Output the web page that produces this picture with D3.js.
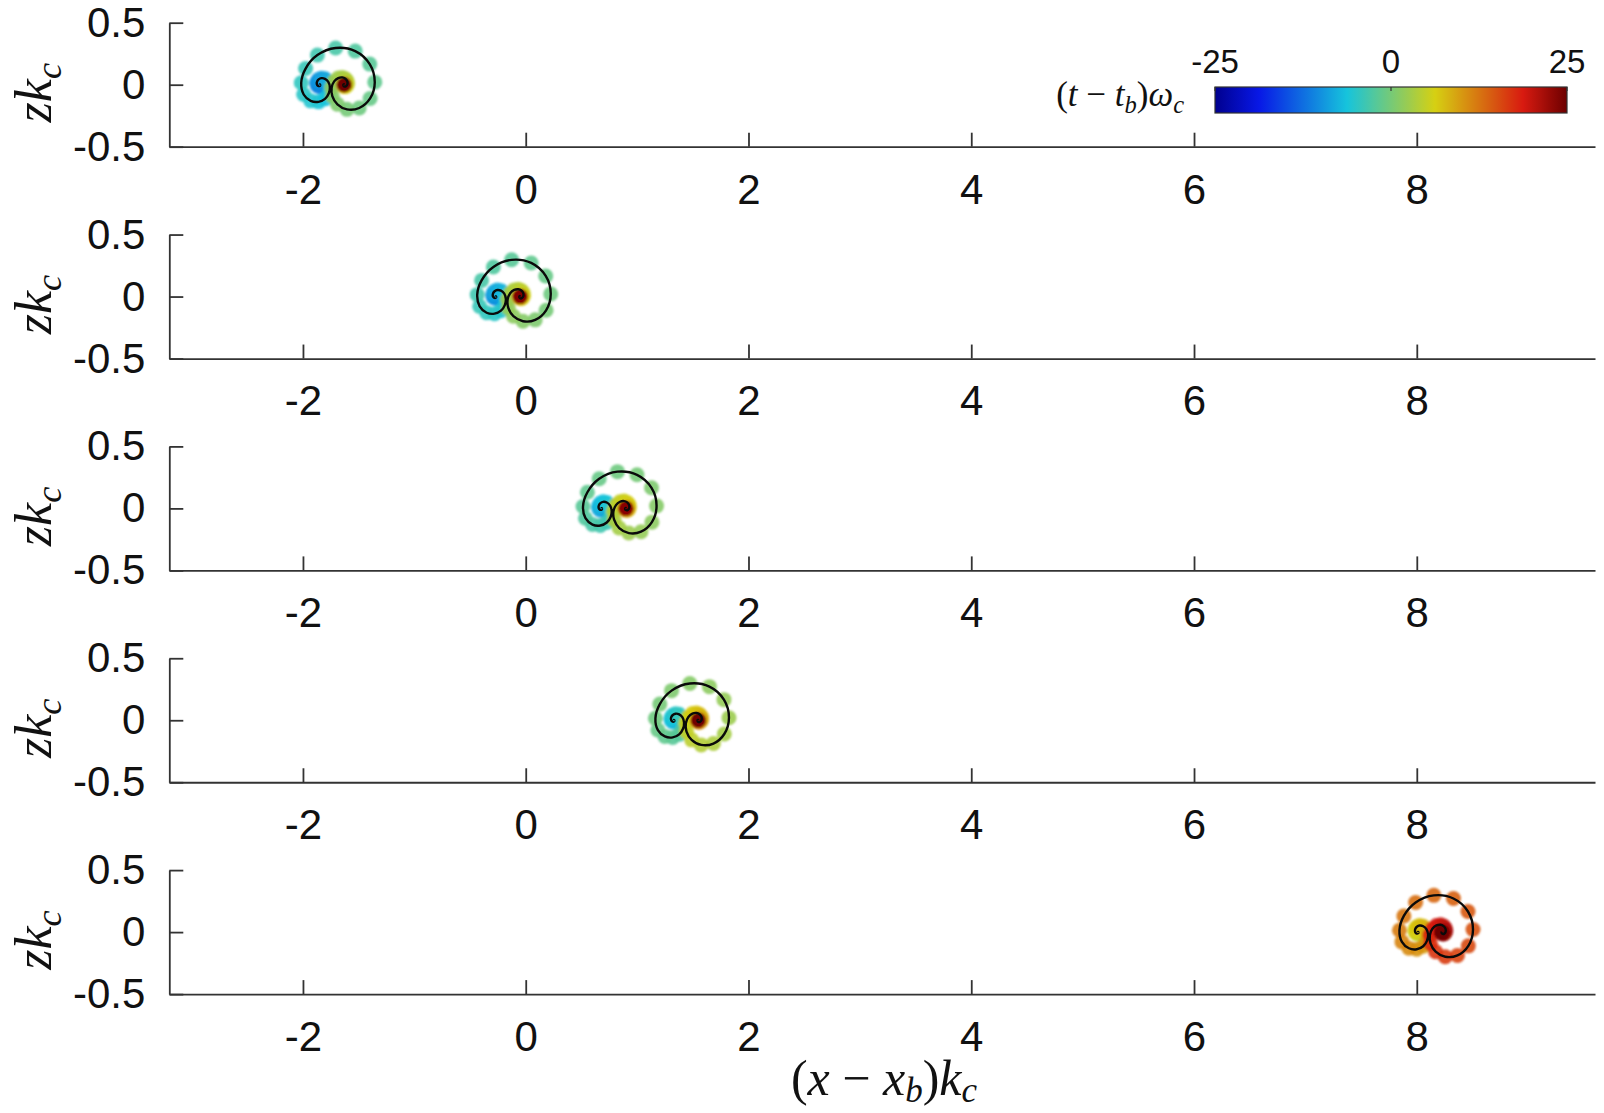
<!DOCTYPE html>
<html>
<head>
<meta charset="utf-8">
<script src="https://cdn.jsdelivr.net/npm/d3@7"></script>
<style>
  body { margin: 0; background: #fff; }
  svg { display: block; }
</style>
</head>
<body>
<svg id="chart" width="1604" height="1113"></svg>
<script>
// Particle path samples: time relative to the passage of the wave group,
// horizontal and vertical displacement from the initial rest position.
const orbitTau = [-24, -22, -20, -18, -16, -14,
  -12, -11.5, -11, -10.5, -10, -9.5, -9, -8.5, -8, -7.5, -7, -6.5, -6, -5.5, -5, -4.5, -4, -3.5,
  -3, -2.5, -2, -1.5, -1, -0.5, 0, 0.5, 1, 1.5, 2, 2.5, 3, 3.5, 4, 4.5, 5, 5.5,
  6, 6.5, 7, 7.5, 8, 8.5, 9, 9.5, 10, 10.5, 11, 11.5, 12,
  14, 16, 18, 20, 22, 24, 26, 28, 30];
const orbitDx = [0, 0, 0, 0, 0, 0,
  0.0013, 0.0027, 0.0038, 0.0042, 0.0043, 0.0008, -0.0054, -0.0137, -0.0217, -0.0262, -0.0228, -0.0093, 0.0156, 0.0477, 0.0775, 0.0915, 0.0822, 0.0477,
  -0.0104, -0.0807, -0.1435, -0.1656, -0.1262, -0.0204, 0.1433, 0.3190, 0.4495, 0.4947, 0.4528, 0.3552, 0.2456, 0.1593, 0.1135, 0.1076, 0.1302, 0.1665,
  0.2029, 0.2306, 0.2462, 0.2502, 0.2456, 0.2366, 0.2269, 0.2190, 0.2141, 0.2123, 0.2130, 0.2150, 0.2176,
  0.22, 0.22, 0.22, 0.22, 0.22, 0.22, 0.22, 0.22, 0.22];
const orbitDz = [0, 0, 0, 0, 0, 0,
  0.0021, 0.0015, 0.0000, -0.0023, -0.0068, -0.0099, -0.0118, -0.0102, -0.0033, 0.0098, 0.0262, 0.0428, 0.0528, 0.0475, 0.0228, -0.0194, -0.0688, -0.1139,
  -0.1382, -0.1304, -0.0791, 0.0152, 0.1303, 0.2388, 0.2962, 0.2710, 0.1661, 0.0207, -0.1108, -0.1879, -0.1989, -0.1581, -0.0913, -0.0242, 0.0265, 0.0536,
  0.0589, 0.0483, 0.0301, 0.0112, -0.0038, -0.0125, -0.0153, -0.0135, -0.0091, -0.0042, 0.0000, 0.0027, 0.0038,
  0, 0, 0, 0, 0, 0, 0, 0, 0];

// One panel per particle: initial rest position and time of the group's passage.
const panelRestX = [-1.85, -0.27, 0.68, 1.33, 8.01];
const panelPeakT = [-3, -2, -0.5, 1, 13.5];

const xTicks = [-2, 0, 2, 4, 6, 8];
const zTicks = [-0.5, 0, 0.5];
const timeTicks = [-25, 0, 25];
const timeRange = [-25, 25];

const svg = d3.select('#chart');
const sansFont = '"Liberation Sans", Arial, Helvetica, sans-serif';
const serifFont = '"Liberation Serif", "Times New Roman", serif';
const axisColor = '#333';
const textColor = '#111';

const plotLeft = 169.3, plotRight = 1595;
const panelTop0 = 22.7, panelStep = 211.85, panelH = 124;

const x = d3.scaleLinear().domain([-3.2, 9.6]).range([plotLeft, plotRight]);

// jet-style colour map over the time range
const jetPos = [0, 0.125, 0.375, 0.625, 0.875, 1];
const color = d3.scaleLinear()
  .domain(jetPos.map(p => timeRange[0] + p * (timeRange[1] - timeRange[0])))
  .range(['#00008f', '#0818e6', '#16c4dc', '#d6d012', '#d81a10', '#6c0000'])
  .interpolate(d3.interpolateRgb)
  .clamp(true);

const defs = svg.append('defs');
defs.append('filter').attr('id', 'soft')
  .attr('x', '-20%').attr('y', '-20%').attr('width', '140%').attr('height', '140%')
  .append('feGaussianBlur').attr('stdDeviation', 1.2);

// math-style label built from tspans (italic symbols, subscripts)
function mathText(sel, parts, size, subDrop) {
  let shift = 0;
  parts.forEach(p => {
    const ts = sel.append('tspan').text(p.t)
      .attr('font-style', p.it ? 'italic' : 'normal');
    const target = p.sub ? size * subDrop : 0;
    if (target !== shift) { ts.attr('dy', target - shift); shift = target; }
    if (p.sub) ts.attr('font-size', size * 0.7);
  });
}

const line = d3.line().curve(d3.curveCatmullRom.alpha(0.5));

panelRestX.forEach((restX, i) => {
  const top = panelTop0 + i * panelStep;
  const y = d3.scaleLinear().domain([-0.5, 0.5]).range([top + panelH, top]);
  const g = svg.append('g');

  // axes: left and bottom spines, ticks pointing inwards
  const gx = g.append('g').attr('transform', `translate(0,${top + panelH})`)
    .call(d3.axisBottom(x).tickValues(xTicks).tickSizeInner(-14).tickSizeOuter(0)
      .tickPadding(27).tickFormat(d => String(d)));
  const gy = g.append('g').attr('transform', `translate(${plotLeft},0)`)
    .call(d3.axisLeft(y).tickValues(zTicks).tickSizeInner(-14).tickSizeOuter(0)
      .tickPadding(24).tickFormat(d => String(d)));
  [gx, gy].forEach(a => {
    a.select('.domain').attr('stroke', axisColor).attr('stroke-width', 1.8);
    a.selectAll('.tick line').attr('stroke', axisColor).attr('stroke-width', 1.8);
    a.selectAll('.tick text').attr('fill', textColor)
      .attr('font-family', sansFont).attr('font-size', 42);
  });

  // y label
  const yl = g.append('text')
    .attr('transform', `translate(51,${top + panelH / 2 + 8}) rotate(-90)`)
    .attr('text-anchor', 'middle')
    .attr('font-family', serifFont).attr('font-size', 52).attr('fill', textColor);
  mathText(yl, [{ t: 'z', it: true }, { t: 'k', it: true }, { t: 'c', it: true, sub: true }], 52, 0.2);

  // trajectory samples inside the time window
  const pts = orbitTau.map((tau, k) => ({
    t: panelPeakT[i] + tau,
    xv: restX + orbitDx[k],
    zv: orbitDz[k]
  })).filter(d => d.t >= timeRange[0] && d.t <= timeRange[1]);

  g.append('g').attr('filter', 'url(#soft)')
    .selectAll('circle').data(pts).join('circle')
    .attr('cx', d => x(d.xv)).attr('cy', d => y(d.zv)).attr('r', 7.5)
    .attr('fill', d => color(d.t)).attr('fill-opacity', 0.9);

  g.append('path')
    .attr('d', line(pts.map(d => [x(d.xv), y(d.zv)])))
    .attr('fill', 'none').attr('stroke', '#0a0a0a').attr('stroke-width', 2.4)
    .attr('stroke-linejoin', 'round');
});

// x label under the last panel
const xl = svg.append('text')
  .attr('x', 884).attr('y', 1095).attr('text-anchor', 'middle')
  .attr('font-family', serifFont).attr('font-size', 50).attr('fill', textColor);
mathText(xl, [{ t: '(' }, { t: 'x', it: true }, { t: ' \u2212 ' }, { t: 'x', it: true },
  { t: 'b', it: true, sub: true }, { t: ')' }, { t: 'k', it: true }, { t: 'c', it: true, sub: true }], 50, 0.14);

// colour bar
const cbX0 = 1215, cbX1 = 1567, cbY0 = 87, cbY1 = 113;
const cb = d3.scaleLinear().domain(timeRange).range([cbX0, cbX1]);
const grad = defs.append('linearGradient').attr('id', 'cbgrad')
  .attr('x1', '0%').attr('x2', '100%').attr('y1', '0%').attr('y2', '0%');
d3.range(0, 1.0001, 0.025).forEach(p => {
  grad.append('stop').attr('offset', `${p * 100}%`)
    .attr('stop-color', color(timeRange[0] + p * (timeRange[1] - timeRange[0])));
});
svg.append('rect').attr('x', cbX0).attr('y', cbY0)
  .attr('width', cbX1 - cbX0).attr('height', cbY1 - cbY0)
  .attr('fill', 'url(#cbgrad)').attr('stroke', '#333').attr('stroke-width', 1.2);
svg.selectAll('.cbtick').data(timeTicks).join('line').attr('class', 'cbtick')
  .attr('x1', d => cb(d)).attr('x2', d => cb(d)).attr('y1', cbY0).attr('y2', cbY0 + 4)
  .attr('stroke', '#333').attr('stroke-width', 1.2);
svg.selectAll('.cblabel').data(timeTicks).join('text').attr('class', 'cblabel')
  .attr('x', d => cb(d)).attr('y', 73).attr('text-anchor', 'middle')
  .attr('font-family', sansFont).attr('font-size', 33).attr('fill', textColor)
  .text(d => String(d));
const cl = svg.append('text')
  .attr('x', 1184).attr('y', 106).attr('text-anchor', 'end')
  .attr('font-family', serifFont).attr('font-size', 35).attr('fill', textColor);
mathText(cl, [{ t: '(' }, { t: 't', it: true }, { t: ' \u2212 ' }, { t: 't', it: true },
  { t: 'b', it: true, sub: true }, { t: ')' }, { t: '\u03c9', it: true }, { t: 'c', it: true, sub: true }], 35, 0.2);
</script>
</body>
</html>
